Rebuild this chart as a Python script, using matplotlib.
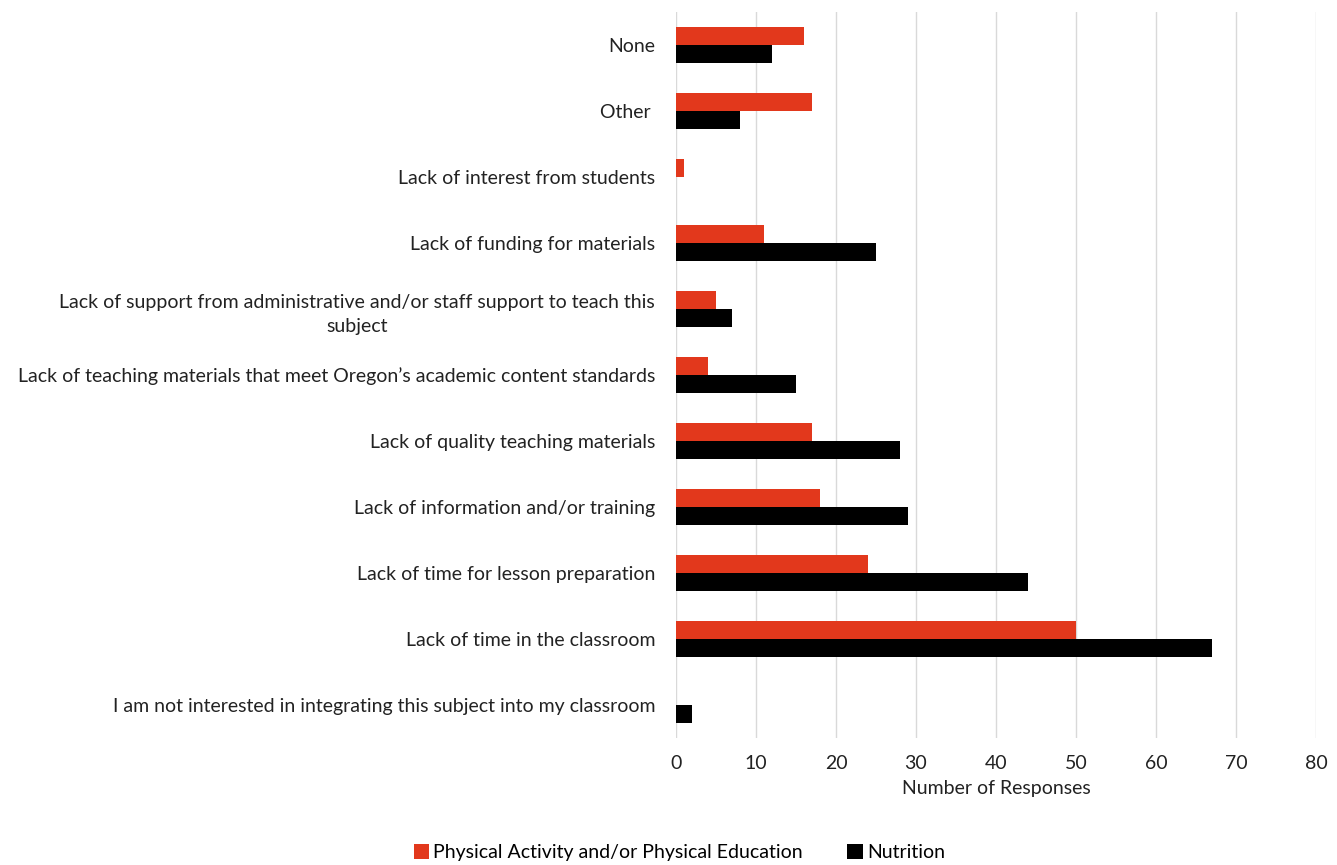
import numpy as np
import matplotlib.pyplot as plt

plt.rcParams['font.family'] = ['Lato', 'DejaVu Sans']

# categories listed bottom to top
categories = [
    "I am not interested in integrating this subject into my classroom",
    "Lack of time in the classroom",
    "Lack of time for lesson preparation",
    "Lack of information and/or training",
    "Lack of quality teaching materials",
    "Lack of teaching materials that meet Oregon\u2019s academic content standards",
    "Lack of support from administrative and/or staff support to teach this\nsubject",
    "Lack of funding for materials",
    "Lack of interest from students",
    "Other ",
    "None",
]
pa_pe = [0, 50, 24, 18, 17, 4, 5, 11, 1, 17, 16]
nutrition = [2, 67, 44, 29, 28, 15, 7, 25, 0, 8, 12]

red = '#e2381c'
h = 0.27
fs = 14

fig = plt.figure(figsize=(13.37, 8.65), dpi=100)
ax = fig.add_axes([0.5056, 0.147, 0.4787, 0.839])

pos = np.arange(len(categories))
b1 = ax.barh(pos + h / 2, pa_pe, height=h, color=red, label='Physical Activity and/or Physical Education')
b2 = ax.barh(pos - h / 2, nutrition, height=h, color='black', label='Nutrition')

ax.set_xlim(0, 80)
ax.set_ylim(-0.5, len(categories) - 0.5)
ax.set_xticks(range(0, 81, 10))
ax.set_yticks(pos)
ax.set_yticklabels(categories, multialignment='center', linespacing=1.5)
ax.tick_params(axis='both', length=0, labelsize=fs, colors='#222222')
ax.tick_params(axis='y', pad=15)
ax.tick_params(axis='x', pad=12)
for s in ax.spines.values():
    s.set_visible(False)
ax.xaxis.grid(True, color='#d9d9d9', linewidth=1)
ax.set_axisbelow(True)
ax.set_xlabel('Number of Responses', fontsize=fs, color='#222222', labelpad=6)

fig.legend(handles=[b1, b2], loc='lower center', bbox_to_anchor=(0.508, -0.016), ncol=2,
           frameon=False, fontsize=fs, handlelength=0.8, handleheight=0.8,
           handletextpad=0.2, columnspacing=2.3)

plt.savefig('out.png', dpi=100)
